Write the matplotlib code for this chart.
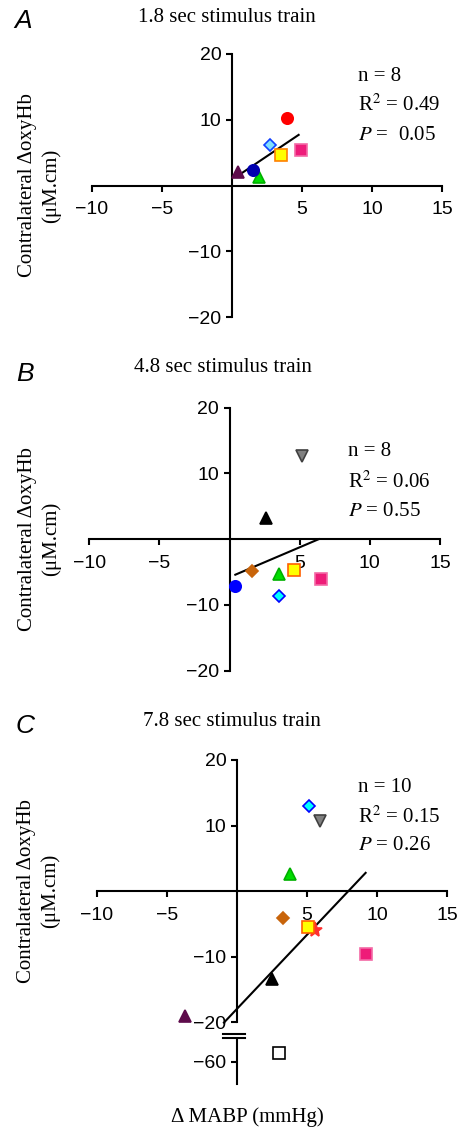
import matplotlib
matplotlib.use('Agg')
import matplotlib.pyplot as plt
import numpy as np

plt.rcParams['font.family'] = ['Liberation Sans', 'DejaVu Sans']
plt.rcParams['mathtext.fontset'] = 'stix'

SERIF = ['Liberation Serif', 'DejaVu Serif']

# ---- data (x = delta MABP, y = delta oxyHb) ----
# A: 1.8 sec stimulus train
a_x = [0.45, 1.9, 1.5, 2.7, 3.5, 4.9, 3.9]
a_y = [2.0, 1.3, 2.3, 6.2, 4.6, 5.4, 10.2]
a_fit_x = [0.64, 4.76]
a_fit_y = [1.8, 7.7]
a_stats = ['n = 8', 'R$^2$ = 0.49', '$P$ =  0.05']

# B: 4.8 sec stimulus train
b_x = [5.16, 2.61, 1.62, 3.54, 4.57, 6.49, 0.41, 3.54]
b_y = [12.7, 3.2, -4.9, -5.3, -4.7, -6.1, -7.05, -8.6]
b_fit_x = [0.41, 6.35]
b_fit_y = [-5.4, 0.0]
b_stats = ['n = 8', 'R$^2$ = 0.06', '$P$ = 0.55']

# C: 7.8 sec stimulus train
c_x = [5.13, 5.89, 3.78, 3.3, 5.56, 5.08, 9.17, 2.47, -3.71]
c_y = [12.95, 10.7, 2.6, -4.06, -6.0, -5.5, -9.65, -13.45, -19.1]
c_low_x = [3.02]
c_low_y = [-56.0]
c_fit_x = [-0.93, 9.17]
c_fit_y = [-20.05, 2.79]
c_stats = ['n = 10', 'R$^2$ = 0.15', '$P$ = 0.26']

x_ticks = [-10, -5, 5, 10, 15]
y_ticks = [-20, -10, 10, 20]

# ---- marker styles (one per point) ----
a_style = [('^', '#5e0b4b', '#5e0b4b'), ('^', '#00dd00', '#00b000'),
           ('o', '#0000b0', '#0000b0'), ('D', '#80dfff', '#1040ff'),
           ('s', '#ffff00', '#ff8000'), ('s', '#ee1c7a', '#f36aa6'),
           ('o', '#ff0000', '#ff0000')]
b_style = [('v', '#808080', '#404040'), ('^', '#000000', '#000000'),
           ('D', '#c8640a', '#c8640a'), ('^', '#00dd00', '#00b000'),
           ('s', '#ffff00', '#ff6000'), ('s', '#ee1c78', '#f36aa6'),
           ('o', '#0000ff', '#0000ff'), ('D', '#00ffff', '#0000ff')]
c_style = [('D', '#00ffff', '#0000ff'), ('v', '#808080', '#404040'),
           ('^', '#00dd00', '#00b000'), ('D', '#c8640a', '#c8640a'),
           ('*', '#ff3030', '#ff3030'), ('s', '#ffff00', '#ff6000'),
           ('s', '#ee1c78', '#f36aa6'), ('^', '#000000', '#000000'),
           ('^', '#5e0b4b', '#5e0b4b')]

SIZES = {'o': 8.2, 's': 8.0, '^': 8.2, 'v': 8.2, 'D': 6.0, '*': 11}


def style_axes(ax, ybounds=(-20, 20)):
    ax.spines['left'].set_position(('data', 0))
    ax.spines['bottom'].set_position(('data', 0))
    ax.spines['top'].set_visible(False)
    ax.spines['right'].set_visible(False)
    ax.spines['left'].set_linewidth(1.5)
    ax.spines['bottom'].set_linewidth(1.5)
    ax.spines['left'].set_bounds(*ybounds)
    ax.spines['bottom'].set_bounds(-10, 15)
    ax.set_xlim(-10, 15)
    ax.set_ylim(-20, 20)
    ax.set_xticks(x_ticks)
    ax.set_yticks(y_ticks)
    ax.tick_params(axis='both', direction='out', length=4.5, width=1.5,
                   labelsize=14)
    ax.tick_params(axis='x', pad=7)
    ax.tick_params(axis='y', pad=3)
    ax.patch.set_visible(False)


def draw_points(ax, xs, ys, styles):
    for x, y, (m, fc, ec) in zip(xs, ys, styles):
        ax.plot(x, y, linestyle='none', marker=m, ms=SIZES[m],
                mfc=fc, mec=ec, mew=1.2, clip_on=False, zorder=3)


def add_text(ax, fig, letter, title, stats, stat_x, stat_y, label_x,
             letter_xy, title_xy):
    ax.set_ylabel('Contralateral \u0394oxyHb\n(\u03bcM.cm)', family=SERIF,
                  fontsize=15, linespacing=1.3, va='center', ha='center')
    ax.yaxis.set_label_coords(label_x, 0.5)
    for s, yy in zip(stats, stat_y):
        ax.text(stat_x, yy, s, transform=ax.transAxes, family=SERIF,
                fontsize=15, va='center', ha='left')
    fig.text(letter_xy[0] / 460, 1 - letter_xy[1] / 1130, letter,
             fontsize=19, style='italic', ha='center', va='center')
    fig.text(title_xy[0] / 460, 1 - title_xy[1] / 1130, title, family=SERIF,
             fontsize=15, ha='center', va='center')


fig = plt.figure(figsize=(4.6, 11.3), dpi=100)

# panel A
axA = fig.add_axes([92 / 460, 1 - 317 / 1130, 350 / 460, 263 / 1130])
style_axes(axA)
axA.plot(a_fit_x, a_fit_y, color='black', lw=1.5, zorder=2)
draw_points(axA, a_x, a_y, a_style)
add_text(axA, fig, 'A', '1.8 sec stimulus train', a_stats, 0.76,
         [0.916, 0.806, 0.692], -0.151, (23, 21), (227, 17))

# panel B
axB = fig.add_axes([89.3 / 460, 1 - 670.7 / 1130, 350.7 / 460, 263 / 1130])
style_axes(axB)
axB.plot(b_fit_x, b_fit_y, color='black', lw=1.5, zorder=2)
draw_points(axB, b_x, b_y, b_style)
add_text(axB, fig, 'B', '4.8 sec stimulus train', b_stats, 0.738,
         [0.833, 0.719, 0.605], -0.143, (25, 374), (223, 368))

# panel C (broken y axis)
axC = fig.add_axes([96.7 / 460, 1 - 1022.3 / 1130, 350.7 / 460, 262.3 / 1130])
style_axes(axC)
axC.plot(c_fit_x, c_fit_y, color='black', lw=1.5, zorder=2, clip_on=False)
draw_points(axC, c_x, c_y, c_style)
add_text(axC, fig, 'C', '7.8 sec stimulus train', c_stats, 0.745,
         [0.896, 0.784, 0.673], -0.165, (25, 726), (232, 722))

axC2 = fig.add_axes([96.7 / 460, 1 - 1083.5 / 1130, 350.7 / 460, 43.5 / 1130])
axC2.set_xlim(-10, 15)
axC2.set_ylim(-70, -50)
for side in ['top', 'right', 'bottom']:
    axC2.spines[side].set_visible(False)
axC2.spines['left'].set_position(('data', 0))
axC2.spines['left'].set_linewidth(1.5)
axC2.set_xticks([])
axC2.set_yticks([-60])
axC2.tick_params(axis='y', direction='out', length=4.5, width=1.5,
                 labelsize=14, pad=3)
axC2.patch.set_visible(False)
draw_points(axC2, c_low_x, c_low_y, [('s', 'white', 'black')])
# break marks
for yb in [-47.4, -49.2]:
    axC2.plot([-1.0, 0.55], [yb, yb], color='black', lw=1.5, clip_on=False)

fig.text(247 / 460, 1 - 1117 / 1130, '\u0394 MABP (mmHg)', family=SERIF,
         fontsize=15, ha='center', va='center')

fig.savefig('out.png', dpi=100)
